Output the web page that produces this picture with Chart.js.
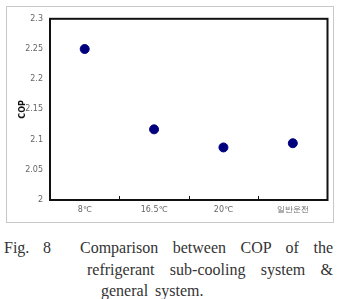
<!DOCTYPE html>
<html>
<head>
<meta charset="utf-8">
<script src="https://cdn.jsdelivr.net/npm/chart.js@4"></script>
<style>
  body { margin: 0; background: #fff; width: 339px; height: 299px; position: relative; overflow: hidden; }
  #frame { position: absolute; left: 6px; top: 6px; width: 326px; height: 215px; border: 1px solid #c8c8c8; }
  .cap { position: absolute; font-family: "Liberation Serif", "DejaVu Serif", serif; font-size: 16px; color: #333;
         text-align: justify; text-align-last: justify; white-space: nowrap; line-height: 22px; }
</style>
</head>
<body>
<div id="frame"><canvas id="copChart" width="326" height="215"></canvas></div>
<div class="cap" style="left:4px; top:237px;">Fig.</div>
<div class="cap" style="left:43px; top:237px;">8</div>
<div class="cap" style="left:80px; top:237px; width:253px;">Comparison between COP of the</div>
<div class="cap" style="left:87px; top:259px; width:246px;">refrigerant sub-cooling system &amp;</div>
<div class="cap" style="left:101px; top:280px; text-align-last:left; word-spacing:3px;">general system.</div>
<script>
// chart values
const categories = ['8℃', '16.5℃', '20℃', '일반운전'];
const copValues = [2.25, 2.117, 2.087, 2.094];
const yTicks = { min: 2, max: 2.3, step: 0.05 };

// black box round the plot plus small inner ticks between categories
const plotBox = {
    id: 'plotBox',
    afterDraw(chart) {
        const { ctx, chartArea: a, scales } = chart;
        ctx.save();
        ctx.strokeStyle = '#111';
        ctx.lineWidth = 2;
        ctx.strokeRect(a.left, a.top, a.right - a.left, a.bottom - a.top);
        ctx.lineWidth = 1;
        for (let i = 0; i < categories.length - 1; i++) {
            const x = Math.round((scales.x.getPixelForTick(i) + scales.x.getPixelForTick(i + 1)) / 2) + 0.5;
            ctx.beginPath();
            ctx.moveTo(x, a.bottom);
            ctx.lineTo(x, a.bottom - 4);
            ctx.stroke();
        }
        ctx.restore();
    }
};

new Chart(document.getElementById('copChart'), {
    type: 'line',
    data: {
        labels: categories,
        datasets: [{
            data: copValues,
            showLine: false,
            pointRadius: 4.5,
            pointHoverRadius: 4.5,
            pointBackgroundColor: '#00007f',
            pointBorderColor: '#00007f'
        }]
    },
    options: {
        responsive: false,
        animation: false,
        layout: { padding: { top: 11, right: 4, left: 0, bottom: 0 } },
        plugins: { legend: { display: false }, tooltip: { enabled: false } },
        scales: {
            x: {
                offset: true,
                grid: { display: false, drawTicks: false },
                border: { display: false },
                ticks: { color: '#666', font: { family: 'DejaVu Sans', size: 8 }, padding: 5, maxRotation: 0 },
                afterFit(scale) { scale.height = 22; }
            },
            y: {
                min: yTicks.min,
                max: yTicks.max,
                grid: { display: false, drawTicks: false },
                border: { display: false },
                title: { display: true, text: 'COP', color: '#111', font: { family: 'DejaVu Sans', size: 8, weight: 'bold' }, padding: { top: 11, bottom: 0 } },
                ticks: {
                    stepSize: yTicks.step,
                    color: '#666',
                    font: { family: 'DejaVu Sans', size: 8 },
                    padding: 7,
                    callback: v => String(+v.toFixed(2))
                },
                afterFit(scale) { scale.width = 43; }
            }
        }
    },
    plugins: [plotBox]
});
</script>
</body>
</html>
